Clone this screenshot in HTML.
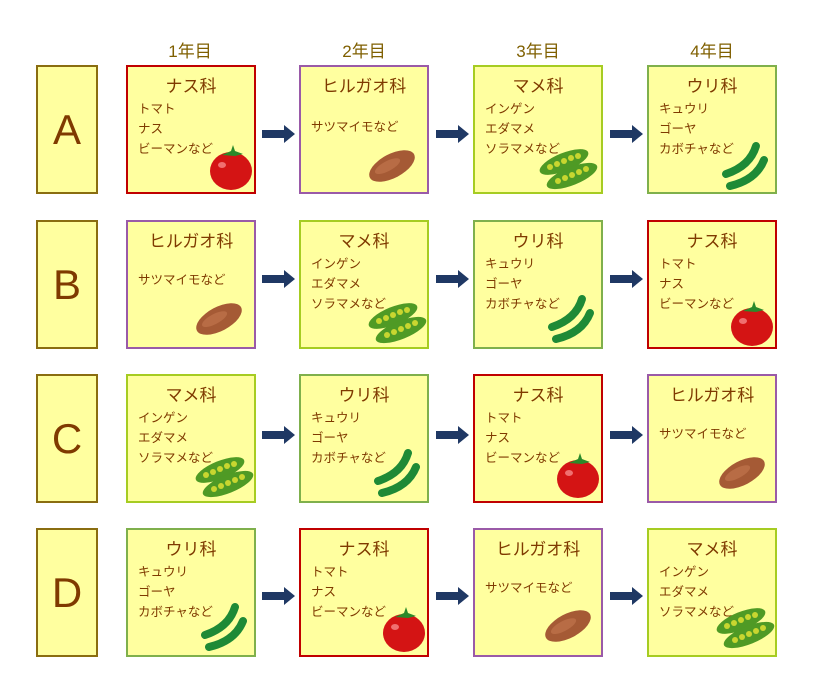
<!DOCTYPE html>
<html><head><meta charset="utf-8"><style>
html,body{margin:0;padding:0;background:#fff}
svg{display:block}
text{font-family:"Liberation Sans","Noto Sans CJK JP",sans-serif}
.t{font-size:17px;fill:#7f3a00;text-anchor:middle}
.l{font-size:12.5px;fill:#7f3a00}
.h{font-size:17px;fill:#7f5f00;text-anchor:middle}
.L{font-size:42px;fill:#7f3a00;text-anchor:middle}
.n{fill:#ffff9f;stroke:#c00000;stroke-width:2}
.p{fill:#ffff9f;stroke:#9a5aa8;stroke-width:2}
.m{fill:#ffff9f;stroke:#a6cc22;stroke-width:2}
.u{fill:#ffff9f;stroke:#7fb04c;stroke-width:2}
.ab{fill:#ffff9f;stroke:#8a6d10;stroke-width:2}
</style></head><body>
<svg width="813" height="683" viewBox="0 0 813 683" xmlns="http://www.w3.org/2000/svg">
<defs>
<g id="tom"><ellipse cx="0" cy="0" rx="21" ry="19" fill="#d41414"/><ellipse cx="-9" cy="-6" rx="4" ry="3" fill="#f07070"/><path d="M-9,-16 L0,-20 L2,-26 L4,-20 L12,-17 L4,-15 Z" fill="#2a8a2a"/></g>
<g id="pot"><ellipse cx="0" cy="0" rx="25" ry="12" transform="rotate(-28)" fill="#a55a35"/><ellipse cx="-4" cy="-2" rx="14" ry="5" transform="rotate(-28)" fill="#b86c45"/></g>
<g id="pea"><ellipse cx="-4" cy="-8" rx="26" ry="9" transform="rotate(-22 -4 -8)" fill="#4f9a25"/><ellipse cx="4" cy="6" rx="27" ry="9" transform="rotate(-22 4 6)" fill="#4f9a25"/>
<g fill="#c8d630"><circle cx="-18" cy="-3" r="3"/><circle cx="-11" cy="-6" r="3"/><circle cx="-4" cy="-9" r="3"/><circle cx="3" cy="-12" r="3"/><circle cx="10" cy="-14" r="3"/><circle cx="-10" cy="11" r="3"/><circle cx="-3" cy="8" r="3"/><circle cx="4" cy="5" r="3"/><circle cx="11" cy="2" r="3"/><circle cx="18" cy="-1" r="3"/></g></g>
<g id="cuc" fill="none" stroke="#1e8a36" stroke-width="8" stroke-linecap="round"><path d="M-20,8 Q4,0 10,-20"/><path d="M-16,20 Q10,14 18,-6"/></g>
<polygon id="arr" points="0,-4 22,-4 22,-9 33,0 22,9 22,4 0,4" fill="#1f3864"/>
</defs>

<text class="h" x="190" y="57">1年目</text>
<text class="h" x="364" y="57">2年目</text>
<text class="h" x="538" y="57">3年目</text>
<text class="h" x="712" y="57">4年目</text>

<rect class="ab" x="37" y="66" width="60" height="127"/><text class="L" x="67" y="144">A</text>
<rect class="ab" x="37" y="221" width="60" height="127"/><text class="L" x="67" y="299">B</text>
<rect class="ab" x="37" y="375" width="60" height="127"/><text class="L" x="67" y="453">C</text>
<rect class="ab" x="37" y="529" width="60" height="127"/><text class="L" x="67" y="607">D</text>

<!-- arrows -->
<use href="#arr" x="262" y="134"/><use href="#arr" x="436" y="134"/><use href="#arr" x="610" y="134"/>
<use href="#arr" x="262" y="279"/><use href="#arr" x="436" y="279"/><use href="#arr" x="610" y="279"/>
<use href="#arr" x="262" y="435"/><use href="#arr" x="436" y="435"/><use href="#arr" x="610" y="435"/>
<use href="#arr" x="262" y="596"/><use href="#arr" x="436" y="596"/><use href="#arr" x="610" y="596"/>

<!-- Row A -->
<g transform="translate(127,66)"><rect class="n" width="128" height="127"/><text class="t" x="64" y="26">ナス科</text><text class="l" x="11" y="47">トマト</text><text class="l" x="11" y="67">ナス</text><text class="l" x="11" y="87">ビーマンなど</text><use href="#tom" x="104" y="105"/></g>
<g transform="translate(300,66)"><rect class="p" width="128" height="127"/><text class="t" x="64" y="26">ヒルガオ科</text><text class="l" x="11" y="65">サツマイモなど</text><use href="#pot" x="92" y="100"/></g>
<g transform="translate(474,66)"><rect class="m" width="128" height="127"/><text class="t" x="64" y="26">マメ科</text><text class="l" x="11" y="47">インゲン</text><text class="l" x="11" y="67">エダマメ</text><text class="l" x="11" y="87">ソラマメなど</text><use href="#pea" x="94" y="104"/></g>
<g transform="translate(648,66)"><rect class="u" width="128" height="127"/><text class="t" x="64" y="26">ウリ科</text><text class="l" x="11" y="47">キュウリ</text><text class="l" x="11" y="67">ゴーヤ</text><text class="l" x="11" y="87">カボチャなど</text><use href="#cuc" x="98" y="100"/></g>

<!-- Row B -->
<g transform="translate(127,221)"><rect class="p" width="128" height="127"/><text class="t" x="64" y="26">ヒルガオ科</text><text class="l" x="11" y="63">サツマイモなど</text><use href="#pot" x="92" y="98"/></g>
<g transform="translate(300,221)"><rect class="m" width="128" height="127"/><text class="t" x="64" y="26">マメ科</text><text class="l" x="11" y="47">インゲン</text><text class="l" x="11" y="67">エダマメ</text><text class="l" x="11" y="87">ソラマメなど</text><use href="#pea" x="97" y="103"/></g>
<g transform="translate(474,221)"><rect class="u" width="128" height="127"/><text class="t" x="64" y="26">ウリ科</text><text class="l" x="11" y="47">キュウリ</text><text class="l" x="11" y="67">ゴーヤ</text><text class="l" x="11" y="87">カボチャなど</text><use href="#cuc" x="98" y="98"/></g>
<g transform="translate(648,221)"><rect class="n" width="128" height="127"/><text class="t" x="64" y="26">ナス科</text><text class="l" x="11" y="47">トマト</text><text class="l" x="11" y="67">ナス</text><text class="l" x="11" y="87">ビーマンなど</text><use href="#tom" x="104" y="106"/></g>

<!-- Row C -->
<g transform="translate(127,375)"><rect class="m" width="128" height="127"/><text class="t" x="64" y="26">マメ科</text><text class="l" x="11" y="47">インゲン</text><text class="l" x="11" y="67">エダマメ</text><text class="l" x="11" y="87">ソラマメなど</text><use href="#pea" x="97" y="103"/></g>
<g transform="translate(300,375)"><rect class="u" width="128" height="127"/><text class="t" x="64" y="26">ウリ科</text><text class="l" x="11" y="47">キュウリ</text><text class="l" x="11" y="67">ゴーヤ</text><text class="l" x="11" y="87">カボチャなど</text><use href="#cuc" x="98" y="98"/></g>
<g transform="translate(474,375)"><rect class="n" width="128" height="127"/><text class="t" x="64" y="26">ナス科</text><text class="l" x="11" y="47">トマト</text><text class="l" x="11" y="67">ナス</text><text class="l" x="11" y="87">ビーマンなど</text><use href="#tom" x="104" y="104"/></g>
<g transform="translate(648,375)"><rect class="p" width="128" height="127"/><text class="t" x="64" y="26">ヒルガオ科</text><text class="l" x="11" y="63">サツマイモなど</text><use href="#pot" x="94" y="98"/></g>

<!-- Row D -->
<g transform="translate(127,529)"><rect class="u" width="128" height="127"/><text class="t" x="64" y="26">ウリ科</text><text class="l" x="11" y="47">キュウリ</text><text class="l" x="11" y="67">ゴーヤ</text><text class="l" x="11" y="87">カボチャなど</text><use href="#cuc" x="98" y="98"/></g>
<g transform="translate(300,529)"><rect class="n" width="128" height="127"/><text class="t" x="64" y="26">ナス科</text><text class="l" x="11" y="47">トマト</text><text class="l" x="11" y="67">ナス</text><text class="l" x="11" y="87">ビーマンなど</text><use href="#tom" x="104" y="104"/></g>
<g transform="translate(474,529)"><rect class="p" width="128" height="127"/><text class="t" x="64" y="26">ヒルガオ科</text><text class="l" x="11" y="63">サツマイモなど</text><use href="#pot" x="94" y="97"/></g>
<g transform="translate(648,529)"><rect class="m" width="128" height="127"/><text class="t" x="64" y="26">マメ科</text><text class="l" x="11" y="47">インゲン</text><text class="l" x="11" y="67">エダマメ</text><text class="l" x="11" y="87">ソラマメなど</text><use href="#pea" x="97" y="100"/></g>
</svg>
</body></html>
